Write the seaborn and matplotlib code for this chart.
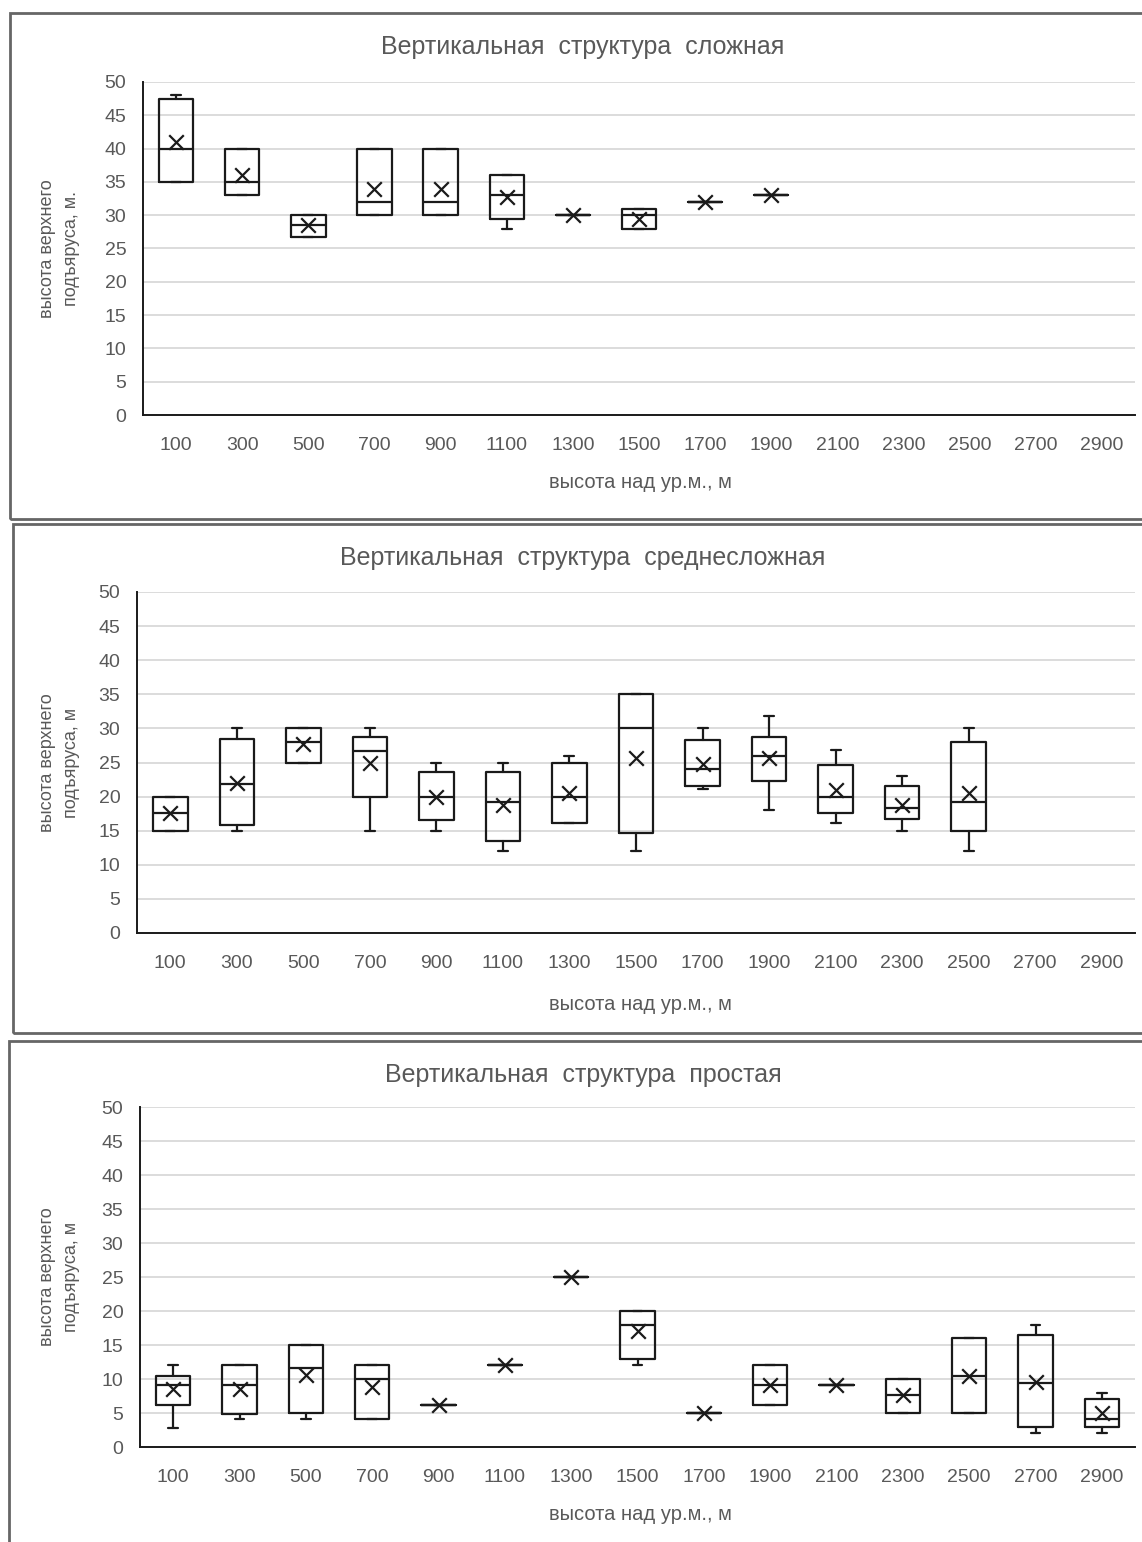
import numpy as np
import pandas as pd
import seaborn as sns
import matplotlib.pyplot as plt
from matplotlib.patches import Rectangle

# altitude classes (x axis)
altitudes = ["100", "300", "500", "700", "900", "1100", "1300", "1500",
             "1700", "1900", "2100", "2300", "2500", "2700", "2900"]

# --- complex vertical structure (100..1900 m)
c_min = [35, 33, 26.7, 30, 30, 28, 30, 28, 32, 33]
c_q1 = [35, 33, 26.7, 30, 30, 29.5, 30, 28, 32, 33]
c_med = [40, 35, 28.5, 32, 32, 33, 30, 30, 32, 33]
c_q3 = [47.4, 40, 30, 40, 40, 36, 30, 31, 32, 33]
c_max = [48, 40, 30, 40, 40, 36, 30, 31, 32, 33]
c_mean = [41, 36.1, 28.5, 34, 34, 32.8, 30, 29.5, 32, 33]

# --- medium-complex vertical structure (100..2500 m)
m_min = [15, 15, 25, 15, 15, 12, 16.2, 12, 21.1, 18, 16.2, 15, 12]
m_q1 = [15, 15.8, 25, 20, 16.5, 13.5, 16.2, 14.7, 21.6, 22.3, 17.6, 16.7, 15]
m_med = [17.6, 21.8, 28, 26.7, 20, 19.2, 20, 30, 24, 25.9, 20, 18.3, 19.2]
m_q3 = [20, 28.5, 30, 28.8, 23.6, 23.6, 25, 35, 28.3, 28.8, 24.7, 21.6, 28]
m_max = [20, 30, 30, 30, 25, 25, 25.9, 35, 30, 31.8, 26.8, 23, 30]
m_mean = [17.6, 22, 27.7, 25, 20, 18.8, 20.5, 25.6, 24.8, 25.6, 20.9, 18.8, 20.5]

# --- simple vertical structure (100..2900 m)
s_min = [2.8, 4.1, 4.1, 4.1, 6.2, 12, 25, 12, 5, 6.2, 9.1, 5, 5, 2.1, 2.1]
s_q1 = [6.2, 4.8, 5, 4.1, 6.2, 12, 25, 12.9, 5, 6.2, 9.1, 5, 5, 2.9, 2.9]
s_med = [9.1, 9.1, 11.6, 10, 6.2, 12, 25, 18, 5, 9.1, 9.1, 7.7, 10.5, 9.4, 4.1]
s_q3 = [10.5, 12, 15, 12, 6.2, 12, 25, 20, 5, 12, 9.1, 10, 16.1, 16.4, 7]
s_max = [12, 12, 15, 12, 6.2, 12, 25, 20, 5, 12, 9.1, 10, 16.1, 17.9, 7.9]
s_mean = [8.6, 8.6, 10.6, 8.8, 6.2, 12, 25, 17.1, 5, 9.1, 9.1, 7.7, 10.5, 9.6, 5]

titles = ["Вертикальная  структура  сложная",
          "Вертикальная  структура  среднесложная",
          "Вертикальная  структура  простая"]
ylabels = ["высота верхнего\nподъяруса, м.",
           "высота верхнего\nподъяруса, м",
           "высота верхнего\nподъяруса, м"]
xlabel = "высота над ур.м., м"

sns.set_style("white")
plt.rcParams["font.family"] = ["Liberation Sans", "DejaVu Sans"]

W, H = 1142, 1542
fig = plt.figure(figsize=(W / 100, H / 100), dpi=100)

TXT = "#595959"
INK = "#1a1a1a"

# panel geometry in pixels:
# (axes left, axes right, y of 50, y of 0, title y, xlabel y, frame top, frame bottom, frame left)
panels = [
    (143, 1135, 82, 415, 47, 483, 13, 519, 10),
    (137, 1135, 592, 933, 558, 1005, 524, 1033, 12.5),
    (140, 1135, 1107, 1447, 1075, 1515, 1041, 1560, 9),
]
data = [
    (c_min, c_q1, c_med, c_q3, c_max, c_mean),
    (m_min, m_q1, m_med, m_q3, m_max, m_mean),
    (s_min, s_q1, s_med, s_q3, s_max, s_mean),
]

for i, (geo, d) in enumerate(zip(panels, data)):
    left, right, y50, y0, ty, xly, btop, bbot, bleft = geo
    # chart-area frame
    fig.patches.append(Rectangle((bleft / W, 1 - bbot / H), (W + 20 - bleft) / W,
                                 (bbot - btop) / H, transform=fig.transFigure,
                                 fill=False, edgecolor="#666666", lw=2, zorder=0))

    ax = fig.add_axes([left / W, 1 - y0 / H, (right - left) / W, (y0 - y50) / H])
    lo, q1, med, q3, hi, mean = d
    stats = [dict(whislo=a, q1=b, med=c, q3=e, whishi=f, fliers=[])
             for a, b, c, e, f in zip(lo, q1, med, q3, hi)]
    ax.bxp(stats, positions=list(range(len(stats))), widths=0.52, capwidths=0.15,
           showfliers=False, manage_ticks=False,
           boxprops=dict(color=INK, lw=1.6),
           medianprops=dict(color=INK, lw=1.6),
           whiskerprops=dict(color=INK, lw=1.6),
           capprops=dict(color=INK, lw=1.6))

    df = pd.DataFrame({"pos": range(len(mean)), "mean": mean})
    sns.scatterplot(data=df, x="pos", y="mean", marker="x", s=110,
                    color=INK, linewidth=1.6, ax=ax, zorder=5, legend=False)

    ax.set_xlim(-0.5, len(altitudes) - 0.5)
    ax.set_ylim(0, 50)
    ax.set_yticks(np.arange(0, 51, 5))
    ax.set_xticks(range(len(altitudes)))
    ax.set_xticklabels(altitudes)
    ax.yaxis.grid(True, color="#d9d9d9", lw=1.3)
    ax.set_axisbelow(True)
    for s in ["top", "right"]:
        ax.spines[s].set_visible(False)
    for s in ["left", "bottom"]:
        ax.spines[s].set_color(INK)
        ax.spines[s].set_linewidth(1.4)
    ax.tick_params(axis="both", length=0, labelsize=14, labelcolor=TXT)
    ax.tick_params(axis="y", pad=12)
    ax.tick_params(axis="x", pad=16)
    ax.set_xlabel("")
    ax.set_ylabel(ylabels[i], fontsize=13, color=TXT, linespacing=1.5)
    ax.yaxis.set_label_coords((80 - left) / (right - left), 0.5)

    fig.text(640 / W, 1 - xly / H, xlabel, ha="center", va="center",
             fontsize=14.5, color=TXT)
    fig.text(583 / W, 1 - ty / H, titles[i], ha="center", va="center",
             fontsize=18, color=TXT)

fig.savefig("out.png", dpi=100)
